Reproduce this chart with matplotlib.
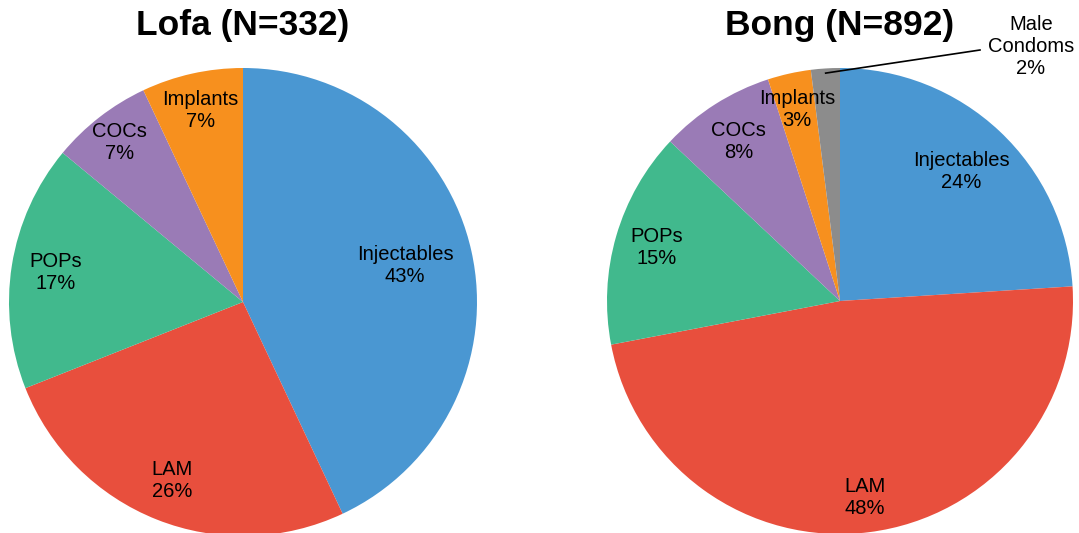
import numpy as np
import matplotlib
matplotlib.use("Agg")
import matplotlib.pyplot as plt

plt.rcParams['font.family'] = ['Liberation Sans', 'DejaVu Sans']

methods_lofa = ["Injectables", "LAM", "POPs", "COCs", "Implants"]
values_lofa = [43, 26, 17, 7, 7]

methods_bong = ["Injectables", "LAM", "POPs", "COCs", "Implants", "Male\nCondoms"]
values_bong = [24, 48, 15, 8, 3, 2]

colors = {"Injectables": "#4a97d2", "LAM": "#e84f3d", "POPs": "#41b98d",
          "COCs": "#9a7bb6", "Implants": "#f7901e", "Male\nCondoms": "#8c8c8c"}

fig = plt.figure(figsize=(10.79, 5.33), dpi=100)
ax = fig.add_axes([0, 0, 1, 1])


def draw(names, vals, center, r, dists, title):
    wedges, _ = ax.pie(vals, colors=[colors[n] for n in names], startangle=90,
                       counterclock=False, center=center, radius=r,
                       wedgeprops=dict(linewidth=0))
    for w, n, v, d in zip(wedges, names, vals, dists):
        if d is None:
            continue
        a = np.deg2rad((w.theta1 + w.theta2) / 2)
        x = center[0] + d * r * np.cos(a)
        y = center[1] + d * r * np.sin(a)
        ax.text(x, y, f"{n}\n{v}%", ha="center", va="center", fontsize=14.5,
                linespacing=1.2)
    ax.text(center[0], 507, title, ha="center", va="center", fontsize=25.5,
            fontweight="bold")
    return wedges


draw(methods_lofa, values_lofa, (243, 231), 234, [0.71, 0.82, 0.81, 0.86, 0.84],
     "Lofa (N=332)")
wb = draw(methods_bong, values_bong, (840, 232), 233,
          [0.76, 0.85, 0.82, 0.81, 0.84, None], "Bong (N=892)")

# leader label for the smallest Bong slice
a = np.deg2rad((wb[-1].theta1 + wb[-1].theta2) / 2)
px = 840 + 233 * np.cos(a) * 0.98
py = 232 + 233 * np.sin(a) * 0.98
ax.plot([px, 980], [py, 483], color="black", lw=1.2)
ax.text(1031, 487, f"{methods_bong[-1]}\n{values_bong[-1]}%", ha="center",
        va="center", fontsize=14.5, linespacing=1.2)

ax.set_xlim(0, 1079)
ax.set_ylim(0, 533)
ax.set_aspect("equal")
ax.axis("off")

fig.savefig("out.png", dpi=100)
